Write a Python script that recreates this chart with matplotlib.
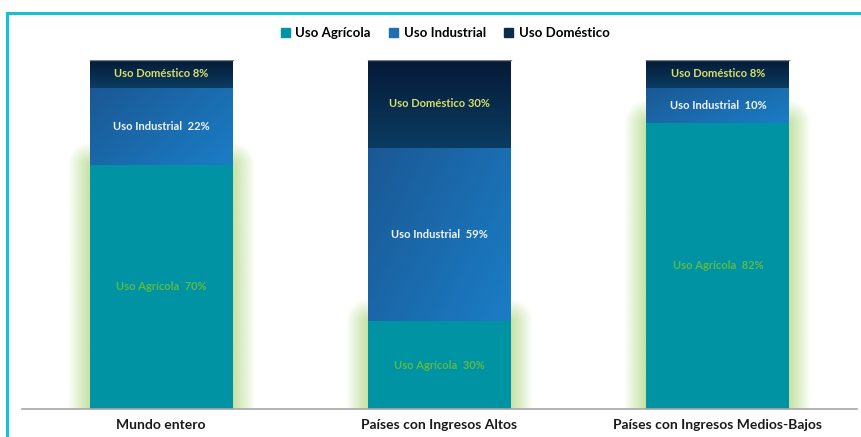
import numpy as np
import matplotlib
matplotlib.use('Agg')
import matplotlib.pyplot as plt
from matplotlib.patches import Patch
from matplotlib.lines import Line2D
from matplotlib.colors import to_rgb

categories = ['Mundo entero', 'Países con Ingresos Altos', 'Países con Ingresos Medios-Bajos']
agricola = [70, 30, 82]
industrial = [22, 59, 10]
domestico = [8, 30, 8]
series_names = ['Uso Agrícola', 'Uso Industrial', 'Uso Doméstico']

plt.rcParams['font.family'] = ['Lato', 'DejaVu Sans']

TEAL = '#0093a3'
BLUE = '#1f6fb2'
NAVY = '#0d2b4e'
GLOW = '#c4e2a2'

W, H = 862, 437
fig = plt.figure(figsize=(W / 100, H / 100), dpi=100)
ax = fig.add_axes([22 / W, 1 - 409 / H, 835 / W, 349 / H])
ax.set_xlim(-0.5, 2.5)
ax.set_ylim(0, 100)
for s in ax.spines.values():
    s.set_visible(False)

bar_w = 0.513
px_x = 835 / 3.0   # pixels per x unit
px_y = 349 / 100.0  # pixels per percent


def gradient(c_top, c_bot, n=64, diag=0.0):
    t = np.linspace(0, 1, n)
    yy, xx = np.meshgrid(t, t, indexing='ij')
    f = np.clip((1 - diag) * yy + diag * xx, 0, 1)[..., None]
    a, b = np.array(to_rgb(c_top)), np.array(to_rgb(c_bot))
    return a * (1 - f) + b * f


def glow(x0, x1, top, pad=22):
    gx = np.linspace(x0 - pad / px_x, x1 + pad / px_x, 200)
    gy = np.linspace(0, top + pad / px_y, 200)
    XX, YY = np.meshgrid(gx, gy)
    dx = np.maximum(np.maximum(x0 - XX, XX - x1), 0) * px_x
    dy = np.maximum(YY - top, 0) * px_y
    d = np.hypot(dx, dy)
    img = np.zeros(XX.shape + (4,))
    img[..., :3] = to_rgb(GLOW)
    img[..., 3] = np.clip(1 - d / pad, 0, 1) ** 0.9
    ax.imshow(img, extent=(gx[0], gx[-1], gy[0], gy[-1]), origin='lower',
              aspect='auto', zorder=1, interpolation='bilinear')


for i, cat in enumerate(categories):
    vals = np.array([agricola[i], industrial[i], domestico[i]], dtype=float)
    pct = vals / vals.sum() * 100
    x0, x1 = i - bar_w / 2, i + bar_w / 2
    tops = np.cumsum(pct)
    glow(x0, x1, tops[0])
    # agricultural segment
    ax.add_patch(plt.Rectangle((x0, 0), bar_w, pct[0], color=TEAL, zorder=2, lw=0))
    # industrial segment, diagonal gradient
    ax.imshow(gradient('#1b5894', '#1a7dc6', diag=0.6), extent=(x0, x1, tops[0], tops[1]),
              origin='upper', aspect='auto', zorder=2)
    # domestic segment, vertical gradient
    ax.imshow(gradient('#061a37', '#0a3c61'), extent=(x0, x1, tops[1], tops[2]),
              origin='upper', aspect='auto', zorder=2)
    ax.plot([x0, x1], [tops[2], tops[2]], color='#76808c', lw=1, zorder=3)

    ax.text(i, pct[0] / 2, f'{series_names[0]}  {agricola[i]}%', ha='center', va='center',
            fontsize=8, fontweight='bold', color='#5cba47', zorder=4)
    ax.text(i, tops[0] + pct[1] / 2, f'{series_names[1]}  {industrial[i]}%', ha='center',
            va='center', fontsize=8, fontweight='bold', color='#f2f4f7', zorder=4)
    ax.text(i, tops[1] + pct[2] / 2, f'{series_names[2]} {domestico[i]}%', ha='center',
            va='center', fontsize=8, fontweight='bold', color='#d8e06a', zorder=4)

ax.axhline(0, color='#a6a6a6', lw=1.2, zorder=5, clip_on=False)
ax.set_xticks(range(len(categories)))
ax.set_xticklabels(categories, fontsize=10, fontweight='bold', color='#1a1a1a')
ax.tick_params(axis='x', length=0, pad=7)
ax.set_yticks([])

handles = [Patch(color=c) for c in (TEAL, BLUE, NAVY)]
fig.legend(handles, series_names, loc='center', bbox_to_anchor=(445 / W, 1 - 33 / H),
           ncol=3, frameon=False, handlelength=0.7, handleheight=0.7,
           handletextpad=0.4, columnspacing=1.4, prop={'weight': 'bold', 'size': 9.5})

# cyan frame on top and left
fig.add_artist(Line2D([7 / W, 1], [1 - 13 / H, 1 - 13 / H], color='#18c0d2', lw=2.2))
fig.add_artist(Line2D([7 / W, 7 / W], [0, 1 - 13 / H], color='#18c0d2', lw=2.2))

fig.savefig('out.png', dpi=100)
